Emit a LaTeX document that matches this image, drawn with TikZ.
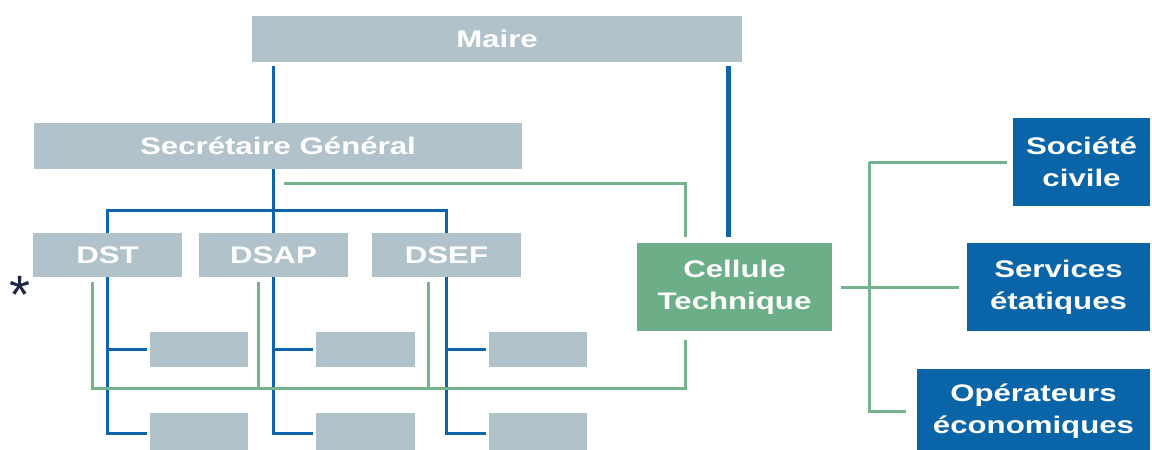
\documentclass[tikz,border=0pt]{standalone}
\usepackage{fontspec}
\setmainfont{Liberation Sans}
\newfontfamily\lblfont[FakeStretch=1.3]{Liberation Sans}
\definecolor{boxgrey}{HTML}{B2C2CA}
\definecolor{boxblue}{HTML}{0A64A8}
\definecolor{boxgreen}{HTML}{6BAE88}
\definecolor{lineblue}{HTML}{0F65AC}
\definecolor{linegreen}{HTML}{74B38D}
\definecolor{stardark}{HTML}{1C2642}
\tikzset{
  lbl/.style={text=white, font=\lblfont\bfseries\fontsize{24}{32}\selectfont, align=center, inner sep=0pt},
  greybox/.style={lbl, fill=boxgrey},
  bluebox/.style={lbl, fill=boxblue},
  greenbox/.style={lbl, fill=boxgreen},
  blueline/.style={draw=lineblue, line width=3pt},
  thickblue/.style={draw=lineblue, line width=5pt},
  greenline/.style={draw=linegreen, line width=3pt},
}
\begin{document}
\begin{tikzpicture}[x=1pt,y=-1pt]
\useasboundingbox (0,0) rectangle (1152,450);
\clip (0,0) rectangle (1152,450);

% hierarchy boxes
\node[greybox, minimum width=490, minimum height=46] (maire) at (497,39) {Maire};
\node[greybox, minimum width=488, minimum height=46] (sg) at (278,146) {Secrétaire Général};
\node[greybox, minimum width=149, minimum height=44] (dst) at (107.5,255) {DST};
\node[greybox, minimum width=149, minimum height=44] (dsap) at (273.5,255) {DSAP};
\node[greybox, minimum width=149, minimum height=44] (dsef) at (446.5,255) {DSEF};

% sub-units (empty boxes)
\node[greybox, minimum width=98, minimum height=35] (a1) at (199,349.5) {};
\node[greybox, minimum width=99, minimum height=35] (a2) at (365.5,349.5) {};
\node[greybox, minimum width=98, minimum height=35] (a3) at (538,349.5) {};
\node[greybox, minimum width=98, minimum height=40] (b1) at (199,433) {};
\node[greybox, minimum width=99, minimum height=40] (b2) at (365.5,433) {};
\node[greybox, minimum width=98, minimum height=40] (b3) at (538,433) {};

% technical unit and partners
\node[greenbox, minimum width=195, minimum height=88] (cell) at (734.5,287) {Cellule\\Technique};
\node[bluebox, minimum width=137, minimum height=88] (soc) at (1081.5,162) {Société\\civile};
\node[bluebox, minimum width=183, minimum height=88] (serv) at (1058.5,287) {Services\\étatiques};
\node[bluebox, minimum width=233, minimum height=84] (oper) at (1033.5,411) {Opérateurs\\économiques};

% footnote mark
\node[text=stardark, font=\fontsize{54}{54}\selectfont, inner sep=0pt, anchor=base] (star) at (20,313) {*};

% helper positions
\coordinate (hbus) at (0,210);
\coordinate (cx) at (728,0);
\coordinate (gstart) at (284,183);
\coordinate (gx) at (685,0);
\coordinate (gbus) at (0,388);
\coordinate (g1) at (92,0);
\coordinate (g2) at (258,0);
\coordinate (g3) at (428,0);
\coordinate (vx) at (869,0);

% blue hierarchy lines
\draw[blueline, shorten <=4pt] (maire.south -| dsap) -- (sg.north -| dsap);
\draw[thickblue, shorten <=4pt, shorten >=6pt] (maire.south -| cx) -- (cell.north -| cx);
\draw[blueline] (sg.south -| dsap) -- (dsap.north);
\draw[blueline] (dst.north) -- (dst.north |- hbus) -- (dsef.north |- hbus) -- (dsef.north);

\foreach \d/\a/\b in {dst/a1/b1, dsap/a2/b2, dsef/a3/b3}{
  \draw[blueline, shorten >=3pt] (\d.south) |- (\b.west);
  \draw[blueline, shorten >=3pt] (\d.south |- \a.west) -- (\a.west);
}

% green coordination lines
\draw[greenline, shorten >=6pt] (gstart) -| (cell.north -| gx);
\draw[greenline, shorten <=5pt] (dst.south -| g1) |- (gbus -| gx) -- ([yshift=-9pt]cell.south -| gx);
\draw[greenline, shorten <=5pt] (dsap.south -| g2) -- (gbus -| g2);
\draw[greenline, shorten <=5pt] (dsef.south -| g3) -- (gbus -| g3);

\draw[greenline, shorten <=9pt, shorten >=8pt] (cell.east) -- (serv.west);
\draw[greenline, shorten >=6pt] (vx |- soc.west) -- (soc.west);
\draw[greenline] (vx |- soc.west) -- (vx |- oper.west) -- ([xshift=-11pt]oper.west);
\end{tikzpicture}
\end{document}
